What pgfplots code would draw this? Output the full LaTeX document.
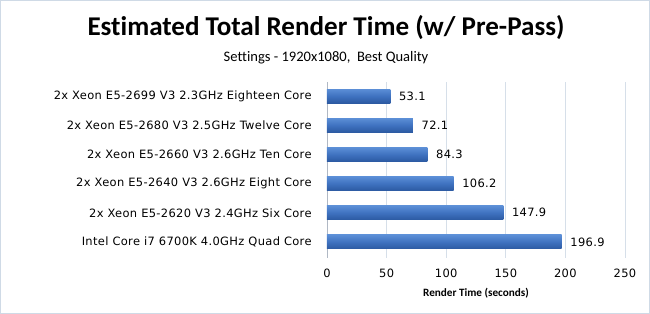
\documentclass[border=0pt]{standalone}
\usepackage{fontspec}
\setmainfont{DejaVu Sans}[LetterSpace=3]
\newfontfamily\calibri{Carlito}[Ligatures=NoCommon]
\usepackage{pgfplots}
\pgfplotsset{compat=1.18}
\definecolor{bartop}{HTML}{5B8ED6}
\definecolor{barmid}{HTML}{3F72C0}
\definecolor{barbot}{HTML}{2C5AA2}
\definecolor{gridc}{HTML}{D6DFE9}
\definecolor{borderc}{HTML}{CFDAE6}
\definecolor{axisc}{HTML}{B0B8C4}
\pgfplotsset{onebar/.style={xbar, bar shift=0pt, bar width=10.5pt, draw=none, top color=bartop, bottom color=barbot, middle color=barmid}}
\begin{document}
\begin{tikzpicture}
\useasboundingbox (0,0) rectangle (487.5pt,235.5pt);
\draw[color=borderc, line width=0.8pt] (0.4pt,0.4pt) rectangle (487.1pt,235.1pt);
\node[font=\calibri\bfseries\fontsize{20.3}{23}\selectfont] at (244.5pt,214.5pt) {Estimated Total Render Time (w/ Pre-Pass)};
\node[font=\calibri\fontsize{10.9}{12}\selectfont] at (244.5pt,192pt) {Settings - 1920x1080,\ \ Best Quality};
\begin{axis}[
  at={(245.25pt,42pt)}, anchor=south west,
  scale only axis, width=223.5pt, height=132pt,
  xbar,
  xmin=0, xmax=250, ymin=-0.55, ymax=5.48,
  xtick={0,50,100,150,200,250},
  ytick={0,1,2,3,4,5},
  yticklabels={Intel Core i7 6700K 4.0GHz Quad Core,
    2x Xeon E5-2620 V3 2.4GHz Six Core,
    2x Xeon E5-2640 V3 2.6GHz Eight Core,
    2x Xeon E5-2660 V3 2.6GHz Ten Core,
    2x Xeon E5-2680 V3 2.5GHz Twelve Core,
    2x Xeon E5-2699 V3 2.3GHz Eighteen Core},
  /pgf/number format/assume math mode=true,
  ticklabel style={font=\fontsize{8.6}{10}\selectfont},
  yticklabel style={xshift=-8pt},
  xticklabel style={yshift=-5pt},
  major tick length=0pt,
  xmajorgrids, grid style={color=gridc, line width=0.6pt},
  axis x line*=bottom, axis y line*=left,
  x axis line style={draw=none},
  y axis line style={color=axisc, line width=0.6pt},
  xlabel={\calibri\bfseries Render Time (seconds)},
  xlabel style={font=\fontsize{8.4}{10}\selectfont, yshift=-1pt},
  nodes near coords,
  nodes near coords align={horizontal},
  every node near coord/.append style={font=\fontsize{8.6}{10}\selectfont, text=black, anchor=west, xshift=3pt},
  point meta=explicit symbolic,
]
\addplot[onebar] coordinates {(196.9,0) [196.9]};
\addplot[onebar] coordinates {(147.9,1) [147.9]};
\addplot[onebar] coordinates {(106.2,2) [106.2]};
\addplot[onebar] coordinates {(84.3,3) [84.3]};
\addplot[onebar] coordinates {(72.1,4) [72.1]};
\addplot[onebar] coordinates {(53.1,5) [53.1]};
\end{axis}
\end{tikzpicture}
\end{document}
